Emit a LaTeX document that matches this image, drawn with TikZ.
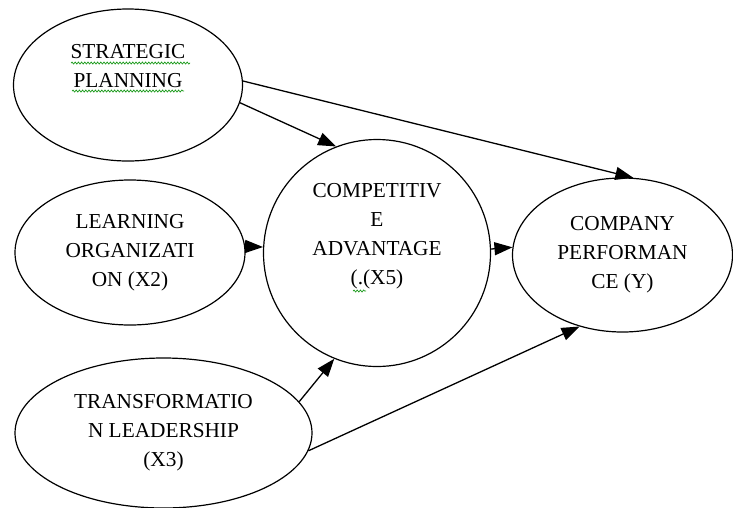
\documentclass[tikz,border=0pt]{standalone}
\usepackage{fontspec}
\setmainfont{Liberation Serif}
\usepackage{tikz}
\usetikzlibrary{shapes.geometric,arrows.meta,decorations.pathmorphing}
\definecolor{spellgreen}{rgb}{0.1,0.6,0.1}
\begin{document}
\begin{tikzpicture}[x=1pt,y=-1pt,
    construct/.style={draw, ellipse, line width=1.2pt, inner sep=0pt, align=center,
      font=\fontsize{21.3}{29}\selectfont},
    path/.style={-{Triangle[length=18pt,width=13pt]}, line width=1.3pt},
    squiggle/.style={spellgreen, line width=0.7pt, decorate,
      decoration={snake, amplitude=1pt, segment length=3.2pt}}]
        % Fix the page size
        \useasboundingbox (0,0) rectangle (733,507);
        % Draw the constructs
        \node[construct, minimum width=229pt, minimum height=152pt] (plan) at (128,85)
            {STRATEGIC\\PLANNING\\\strut};
        \node[construct, minimum width=230pt, minimum height=145pt] (learn) at (130,252.5)
            {LEARNING\\ORGANIZATI\\ON (X2)};
        \node[construct, minimum width=297pt, minimum height=150pt] (lead) at (163.5,433)
            {TRANSFORMATIO\\N LEADERSHIP\\(X3)};
        \node[construct, circle, minimum size=227pt] (adv) at (377,253)
            {COMPETITIV\\E\\ADVANTAGE\\(.(X5)\\\strut};
        \node[construct, minimum width=220pt, minimum height=154pt] (perf) at (622.5,255)
            {COMPANY\\PERFORMAN\\CE (Y)};
        % Draw the paths
        \draw[path] (plan.2.5) -- (perf.82.8);
        \draw[path] (plan.-9.5) -- (adv.111);
        \draw[path] (learn.3) -- (adv.177);
        \draw[path] (adv.2.5) -- (perf.176);
        \draw[path] (lead.13.9) -- (adv.-112);
        \draw[path] (lead.-7.4) -- (perf.-121);
        % Spell check marks
        \draw[squiggle] (71,63) -- (190,63);
        \draw[squiggle] (72,91) -- (184,91);
        \draw[squiggle] (353,291) -- (366,291);
      \end{tikzpicture}
\end{document}
